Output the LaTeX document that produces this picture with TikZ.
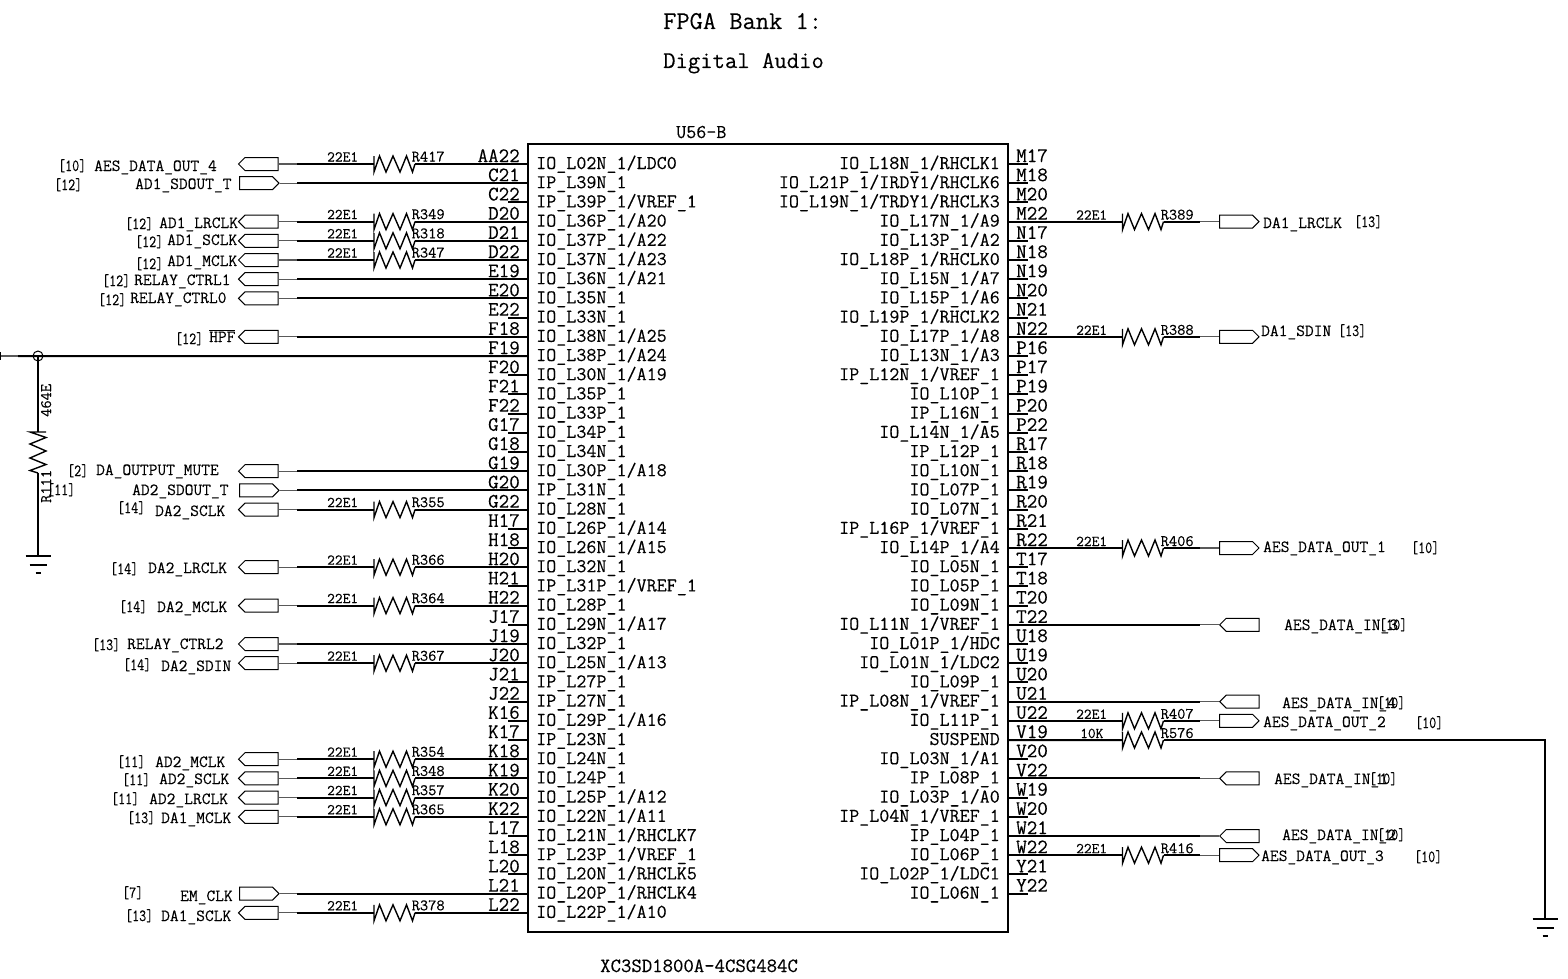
\documentclass[tikz,border=0pt]{standalone}
\usepackage{tikz}
\usepackage{fontspec}
\usetikzlibrary{shapes.symbols}
\newfontfamily\schfont{Latin Modern Mono}[FakeBold=0.2]
\newcommand{\refno}[1]{\scalebox{.8}[1]{[#1]}}
\tikzset{
  resh/.pic={
    \draw[line width=1.4] (0,-8) -- (0,8) -- (5.5,-8) -- (12,8) -- (19,-8) -- (26,8) -- (32.5,-8) -- (38.5,8) -- (41,0);
  },
  gnd/.pic={
    \draw[line width=1.8] (-12.5,0) -- (12.5,0);
    \draw[line width=1.8] (-8.5,9) -- (8.5,9);
    \draw[line width=1.8] (-2.5,17) -- (2.5,17);
  }
}
\begin{document}
\begin{tikzpicture}[x=1pt,y=-1pt]
  \tikzstyle{wire} = [line width=2, black]
  \tikzstyle{tail} = [line width=1.1, black!65]
  \tikzstyle{port} = [signal, signal from=nowhere, draw=black, line width=1, inner sep=0, minimum width=39.5, minimum height=13]
  \tikzstyle{txt} = [inner sep=0, font=\schfont\fontsize{19.5}{20}\selectfont]
  \tikzstyle{pinno} = [inner sep=0, font=\schfont\fontsize{20.5}{21}\selectfont]
  \tikzstyle{sig} = [inner sep=0, anchor=base west, font=\schfont\fontsize{17}{17}\selectfont]
  \tikzstyle{val} = [inner sep=0, anchor=base west, font=\schfont\fontsize{15}{15}\selectfont]
  \tikzstyle{rname} = [inner sep=0, anchor=base west, font=\schfont\fontsize{16}{16}\selectfont]
  \useasboundingbox (0,0) rectangle (1568,979);

  \node (title1) [inner sep=0, anchor=base west, font=\schfont\fontsize{25.7}{26}\selectfont] at (663,29) {FPGA Bank 1:};
  \node (title2) [inner sep=0, anchor=base west, font=\schfont\fontsize{24}{25}\selectfont] at (663,68) {Digital Audio};
  \node (U56B) [draw=black, line width=1.8, inner sep=0, minimum width=480, minimum height=788] at (768,538) {};
  \node (part) [inner sep=0, anchor=base west, font=\schfont\fontsize{19.5}{20}\selectfont] at (676,138) {U56-B};
  \node (device) [inner sep=0, anchor=base west, font=\schfont\fontsize{20.2}{20}\selectfont] at (600,972) {XC3SD1800A-4CSG484C};

  % left pins
  \foreach \pinno/\pinname [count=\i from 0] in {AA22/{IO\_L02N\_1/LDC0},C21/{IP\_L39N\_1},C22/{IP\_L39P\_1/VREF\_1},D20/{IO\_L36P\_1/A20},D21/{IO\_L37P\_1/A22},D22/{IO\_L37N\_1/A23},E19/{IO\_L36N\_1/A21},E20/{IO\_L35N\_1},E22/{IO\_L33N\_1},F18/{IO\_L38N\_1/A25},F19/{IO\_L38P\_1/A24},F20/{IO\_L30N\_1/A19},F21/{IO\_L35P\_1},F22/{IO\_L33P\_1},G17/{IO\_L34P\_1},G18/{IO\_L34N\_1},G19/{IO\_L30P\_1/A18},G20/{IP\_L31N\_1},G22/{IO\_L28N\_1},H17/{IO\_L26P\_1/A14},H18/{IO\_L26N\_1/A15},H20/{IO\_L32N\_1},H21/{IP\_L31P\_1/VREF\_1},H22/{IO\_L28P\_1},J17/{IO\_L29N\_1/A17},J19/{IO\_L32P\_1},J20/{IO\_L25N\_1/A13},J21/{IP\_L27P\_1},J22/{IP\_L27N\_1},K16/{IO\_L29P\_1/A16},K17/{IP\_L23N\_1},K18/{IO\_L24N\_1},K19/{IO\_L24P\_1},K20/{IO\_L25P\_1/A12},K22/{IO\_L22N\_1/A11},L17/{IO\_L21N\_1/RHCLK7},L18/{IP\_L23P\_1/VREF\_1},L20/{IO\_L20N\_1/RHCLK5},L21/{IO\_L20P\_1/RHCLK4},L22/{IO\_L22P\_1/A10}}
  {
    \pgfmathsetmacro{\y}{164+19.2*\i}
    \coordinate (LP\i) at (528,\y);
    \coordinate (LS\i) at (508,\y);
    \node (LN\i) [pinno, anchor=base east] at (520,\y-2) {\pinno};
    \node (LT\i) [txt, anchor=base west] at (536,\y+5) {\pinname};
    \draw[wire] (LP\i) -- (LS\i);
  }

  % right pins
  \foreach \pinno/\pinname [count=\i from 0] in {M17/{IO\_L18N\_1/RHCLK1},M18/{IO\_L21P\_1/IRDY1/RHCLK6},M20/{IO\_L19N\_1/TRDY1/RHCLK3},M22/{IO\_L17N\_1/A9},N17/{IO\_L13P\_1/A2},N18/{IO\_L18P\_1/RHCLK0},N19/{IO\_L15N\_1/A7},N20/{IO\_L15P\_1/A6},N21/{IO\_L19P\_1/RHCLK2},N22/{IO\_L17P\_1/A8},P16/{IO\_L13N\_1/A3},P17/{IP\_L12N\_1/VREF\_1},P19/{IO\_L10P\_1},P20/{IP\_L16N\_1},P22/{IO\_L14N\_1/A5},R17/{IP\_L12P\_1},R18/{IO\_L10N\_1},R19/{IO\_L07P\_1},R20/{IO\_L07N\_1},R21/{IP\_L16P\_1/VREF\_1},R22/{IO\_L14P\_1/A4},T17/{IO\_L05N\_1},T18/{IO\_L05P\_1},T20/{IO\_L09N\_1},T22/{IO\_L11N\_1/VREF\_1},U18/{IO\_L01P\_1/HDC},U19/{IO\_L01N\_1/LDC2},U20/{IO\_L09P\_1},U21/{IP\_L08N\_1/VREF\_1},U22/{IO\_L11P\_1},V19/{SUSPEND},V20/{IO\_L03N\_1/A1},V22/{IP\_L08P\_1},W19/{IO\_L03P\_1/A0},W20/{IP\_L04N\_1/VREF\_1},W21/{IP\_L04P\_1},W22/{IO\_L06P\_1},Y21/{IO\_L02P\_1/LDC1},Y22/{IO\_L06N\_1}}
  {
    \pgfmathsetmacro{\y}{164+19.2*\i}
    \coordinate (RP\i) at (1008,\y);
    \coordinate (RS\i) at (1028,\y);
    \node (RN\i) [pinno, anchor=base west] at (1016,\y-2) {\pinno};
    \node (RT\i) [txt, anchor=base east] at (1000,\y+5) {\pinname};
    \draw[wire] (RP\i) -- (RS\i);
  }

  % left ports, then wires with or without a resistor
  \foreach \i/\dir/\anc/\px in {0/west/east/278.5,1/east/west/239,3/west/east/278.5,4/west/east/278.5,5/west/east/278.5,6/west/east/278.5,7/west/east/278.5,9/west/east/278.5,16/west/east/278.5,17/east/west/239,18/west/east/278.5,21/west/east/278.5,23/west/east/278.5,25/west/east/278.5,26/west/east/278.5,31/west/east/278.5,32/west/east/278.5,33/west/east/278.5,34/west/east/278.5,38/east/west/239,39/west/east/278.5}
  {
    \pgfmathsetmacro{\y}{164+19.2*\i}
    \node (LG\i) [port, signal to=\dir, anchor=\anc] at (\px,\y) {};
    \coordinate (LW\i) at (297,\y);
    \draw[tail] (LG\i.east) -- (LW\i);
  }
  \foreach \i in {1,6,7,9,16,17,25,38}
    \draw[wire] (LW\i) -- (LP\i);
  \foreach \i/\rn in {0/R417,3/R349,4/R318,5/R347,18/R355,21/R366,23/R364,26/R367,31/R354,32/R348,33/R357,34/R365,39/R378}
  {
    \pgfmathsetmacro{\y}{164+19.2*\i}
    \coordinate (LRa\i) at (374,\y);
    \coordinate (LRb\i) at (415,\y);
    \pic at (LRa\i) {resh};
    \draw[wire] (LW\i) -- (LRa\i);
    \draw[wire] (LRb\i) -- (LP\i);
    \node (LV\i) [val] at (327,\y-2.5) {22E1};
    \node (LX\i) [rname] at (411.5,\y-2.5) {\rn};
  }

  % left labels
  \foreach \x/\y/\t [count=\i] in {58/171/{\refno{10}},94/171/AES\_DATA\_OUT\_4,54/190/{\refno{12}},135/189/AD1\_SDOUT\_T,125/229/{\refno{12}},159/228/AD1\_LRCLK,135/247/{\refno{12}},167/245/AD1\_SCLK,135/269/{\refno{12}},167/266/AD1\_MCLK,102/286/{\refno{12}},134/285/RELAY\_CTRL1,98/305/{\refno{12}},130/303/RELAY\_CTRL0,175/344/{\refno{12}},209/342/{$\overline{\mbox{HPF}}$},67/476/{\refno{2}},96/475/DA\_OUTPUT\_MUTE,47/495/{\refno{11}},132/495/AD2\_SDOUT\_T,117/513/{\refno{14}},155/516/DA2\_SCLK,110/574/{\refno{14}},148/573/DA2\_LRCLK,119/612/{\refno{14}},157/612/DA2\_MCLK,92/650/{\refno{13}},127/649/RELAY\_CTRL2,123/670/{\refno{14}},161/671/DA2\_SDIN,117/767/{\refno{11}},155/767/AD2\_MCLK,122/785/{\refno{11}},159/784/AD2\_SCLK,111/804/{\refno{11}},149/804/AD2\_LRCLK,127/823/{\refno{13}},161/823/DA1\_MCLK,122/898/{\refno{7}},180/901/EM\_CLK,125/921/{\refno{13}},161/921/DA1\_SCLK}
    \node (LL\i) [sig] at (\x,\y) {\t};

  % right ports and wires
  \foreach \i/\dir in {3/east,9/east,20/east,24/west,28/west,29/east,32/west,35/west,36/east}
  {
    \pgfmathsetmacro{\y}{164+19.2*\i}
    \node (RG\i) [port, signal to=\dir, anchor=west] at (1219,\y) {};
    \coordinate (RW\i) at (1200,\y);
    \draw[tail] (RW\i) -- (RG\i.west);
  }
  \foreach \i in {24,28,32,35}
    \draw[wire] (RP\i) -- (RW\i);
  \foreach \i/\rn in {3/R389,9/R388,20/R406,29/R407,36/R416}
  {
    \pgfmathsetmacro{\y}{164+19.2*\i}
    \coordinate (RRa\i) at (1122.5,\y);
    \coordinate (RRb\i) at (1163.5,\y);
    \pic at (RRa\i) {resh};
    \draw[wire] (RP\i) -- (RRa\i);
    \draw[wire] (RRb\i) -- (RW\i);
    \node (RV\i) [val] at (1076,\y-2) {22E1};
    \node (RX\i) [rname] at (1160.5,\y-2) {\rn};
  }

  % right labels
  \foreach \x/\y/\t [count=\i] in {1263/228/DA1\_LRCLK,1354/227/{\refno{13}},1261/336/DA1\_SDIN,1338/336/{\refno{13}},1263/552/AES\_DATA\_OUT\_1,1411/553/{\refno{10}},1284/630/AES\_DATA\_IN\_3,1379/630/{\refno{10}},1282/708/AES\_DATA\_IN\_4,1377/708/{\refno{10}},1263/727/AES\_DATA\_OUT\_2,1415/728/{\refno{10}},1274/784/AES\_DATA\_IN\_1,1369/784/{\refno{10}},1282/840/AES\_DATA\_IN\_2,1377/840/{\refno{10}},1261/861/AES\_DATA\_OUT\_3,1414/862/{\refno{10}}}
    \node (RL\i) [sig] at (\x,\y) {\t};

  % suspend pull-down
  \coordinate (Ra30) at (1122.5,740);
  \coordinate (Rb30) at (1163.5,740);
  \coordinate (Rc30) at (1545,740);
  \coordinate (G2) at (1545,919);
  \pic at (Ra30) {resh};
  \draw[wire] (RP30) -- (Ra30);
  \draw[wire] (Rb30) -- (Rc30) -- (G2);
  \pic at (G2) {gnd};
  \node (RV30) [val] at (1080,738) {10K};
  \node (RX30) [rname] at (1160.5,738) {R576};

  % F19 net with its resistor to ground
  \node (J19) [draw=black, line width=1, circle, inner sep=0, minimum size=10] at (38,356) {};
  \coordinate (Bend) at (0,356);
  \coordinate (Bw) at (18,356);
  \coordinate (Ra11) at (38,432);
  \coordinate (Rb11) at (38,473);
  \coordinate (G1) at (38,556);
  \draw[wire] (LP10) -- (Bw);
  \draw[tail] (Bw) -- (Bend);
  \draw[wire] ([yshift=-4]Bend) -- ([yshift=4]Bend);
  \draw[wire] (J19.center) -- (Ra11);
  \pic[rotate=-90] at (Ra11) {resh};
  \draw[wire] (Rb11) -- (G1);
  \pic at (G1) {gnd};
  \node (V111) [rname, rotate=90] at (51,417) {464E};
  \node (R111) [rname, rotate=90] at (51,503) {R111};
\end{tikzpicture}
\end{document}
